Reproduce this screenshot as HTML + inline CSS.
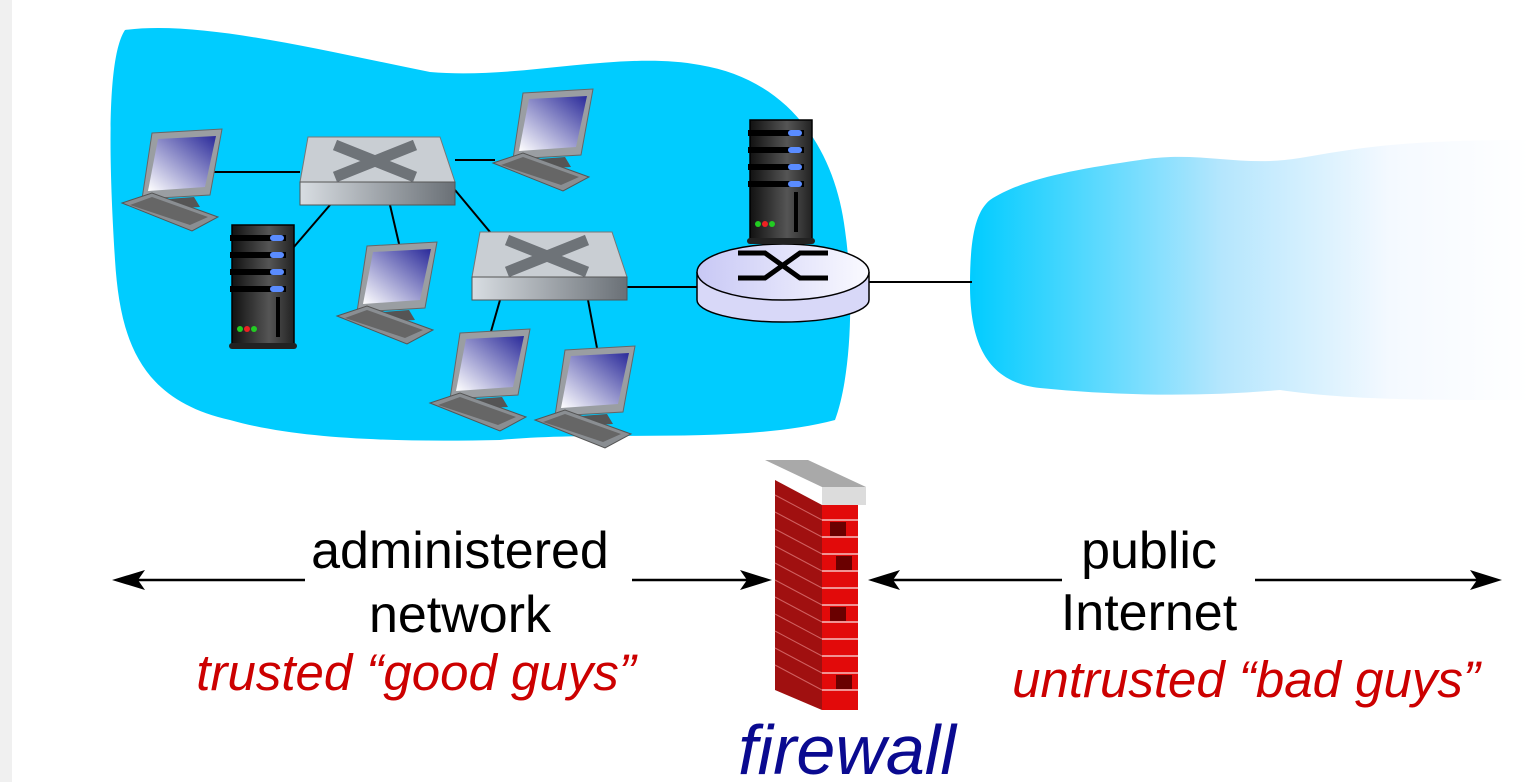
<!DOCTYPE html>
<html><head><meta charset="utf-8"><style>
html,body{margin:0;padding:0;background:#fff;}
svg{display:block}
text{font-family:"Liberation Sans",Arial,sans-serif}
</style></head><body>
<svg width="1530" height="782" viewBox="0 0 1530 782" xmlns="http://www.w3.org/2000/svg">
<defs>
<linearGradient id="cg" x1="0" x2="1" y1="0" y2="0">
<stop offset="0" stop-color="#00ccff"/><stop offset="0.45" stop-color="#b5e6fd"/><stop offset="0.75" stop-color="#f4f9ff"/><stop offset="1" stop-color="#fff"/></linearGradient>
<linearGradient id="scr" x1="0" y1="1" x2="1" y2="0"><stop offset="0" stop-color="#fff"/><stop offset="1" stop-color="#2a2a9a"/></linearGradient>
<linearGradient id="sw" x1="0" x2="1"><stop offset="0" stop-color="#d8dde2"/><stop offset="1" stop-color="#6a7076"/></linearGradient>
<linearGradient id="srv" x1="0" x2="1"><stop offset="0" stop-color="#111"/><stop offset="0.6" stop-color="#555"/><stop offset="1" stop-color="#222"/></linearGradient>
<linearGradient id="rt" x1="0" x2="1"><stop offset="0" stop-color="#c8c8f5"/><stop offset="1" stop-color="#fafaff"/></linearGradient>
<g id="pc">
<polygon points="30,0 100,-4 88,62 20,66" fill="#9a9ea2" stroke="#666" stroke-width="1"/>
<polygon points="36,6 94,3 83,54 26,58" fill="url(#scr)"/>
<polygon points="46,66 72,64 78,74 40,76" fill="#555"/>
<polygon points="0,70 30,60 96,84 70,98" fill="#8a8e92" stroke="#555" stroke-width="1"/>
<polygon points="8,72 30,64 86,84 68,92" fill="#666"/>
</g>
<g id="srvr">
<rect x="0" y="0" width="62" height="122" fill="url(#srv)" stroke="#000" stroke-width="1.5"/>
<rect x="-2" y="10" width="56" height="6" fill="#000"/><rect x="38" y="10" width="14" height="6" rx="3" fill="#5a8cff"/>
<rect x="-2" y="27" width="56" height="6" fill="#000"/><rect x="38" y="27" width="14" height="6" rx="3" fill="#5a8cff"/>
<rect x="-2" y="44" width="56" height="6" fill="#000"/><rect x="38" y="44" width="14" height="6" rx="3" fill="#5a8cff"/>
<rect x="-2" y="61" width="56" height="6" fill="#000"/><rect x="38" y="61" width="14" height="6" rx="3" fill="#5a8cff"/>
<rect x="44" y="72" width="4" height="40" fill="#000"/>
<circle cx="8" cy="104" r="3" fill="#2c2"/><circle cx="15" cy="104" r="3" fill="#e22"/><circle cx="22" cy="104" r="3" fill="#2c2"/>
<rect x="-3" y="118" width="68" height="6" rx="3" fill="#222"/>
</g>
<g id="swt">
<polygon points="8,0 140,0 155,45 0,45" fill="#c9ced3" stroke="#777"/>
<rect x="0" y="45" width="155" height="23" fill="url(#sw)" stroke="#555"/>
<path d="M35,8 L75,24 L115,8 M35,40 L75,24 L115,40" stroke="#6e7378" stroke-width="11" fill="none"/>
</g>
</defs>
<rect x="0" y="0" width="12" height="782" fill="#f0f0f0"/>
<!-- left cloud -->
<path d="M125,30 C200,20 320,50 430,72 C520,80 620,50 700,65 C790,80 835,150 845,230 C855,300 850,380 835,420 C740,445 600,430 500,440 C400,442 300,440 230,420 C140,400 120,340 115,260 C110,180 105,60 125,30 Z" fill="#00ccff"/>
<!-- right cloud -->
<path d="M990,200 C1020,180 1070,170 1140,160 C1200,150 1240,168 1300,158 C1360,148 1400,140 1530,140 L1530,400 C1420,400 1350,400 1280,390 C1200,397 1120,396 1040,388 C985,382 970,340 970,285 C970,240 975,212 990,200 Z" fill="url(#cg)"/>
<!-- links -->
<g stroke="#000" stroke-width="2">
<line x1="210" y1="172" x2="300" y2="172"/>
<line x1="455" y1="160" x2="495" y2="160"/>
<line x1="330" y1="205" x2="293" y2="248"/>
<line x1="390" y1="205" x2="400" y2="248"/>
<line x1="455" y1="190" x2="490" y2="232"/>
<line x1="500" y1="300" x2="490" y2="335"/>
<line x1="588" y1="300" x2="597" y2="348"/>
<line x1="625" y1="287" x2="700" y2="287"/>
<line x1="868" y1="282" x2="972" y2="282"/>
</g>
<use href="#swt" x="300" y="137"/>
<use href="#swt" x="472" y="232"/>
<use href="#pc" x="122" y="133"/>
<use href="#pc" x="493" y="93"/>
<use href="#pc" x="337" y="246"/>
<use href="#pc" x="430" y="333"/>
<use href="#pc" x="535" y="350"/>
<use href="#srvr" x="232" y="225"/>
<!-- router -->
<path d="M697,272 L697,300 A86,22 0 0 0 869,300 L869,272" fill="#d8d8f8" stroke="#000" stroke-width="1.5"/>
<ellipse cx="783" cy="272" rx="86" ry="28" fill="url(#rt)" stroke="#000" stroke-width="1.5"/>
<use href="#srvr" x="750" y="120"/>
<path d="M738,253 L765,253 L800,278 L828,278 M738,278 L765,278 L800,253 L828,253" stroke="#000" stroke-width="5" fill="none"/>
<!-- firewall -->
<polygon points="765,460 808,460 866,487 822,487" fill="#a9a9a9"/>
<polygon points="822,487 866,487 866,505 822,505" fill="#dcdcdc"/>
<polygon points="775,480 822,505 822,710 775,690" fill="#a01010"/>
<rect x="822" y="505" width="36" height="205" fill="#e20a0a"/>
<g stroke="#f4c0c0" stroke-width="1.5">
<path d="M822,520 H858 M822,537 H858 M822,554 H858 M822,571 H858 M822,588 H858 M822,605 H858 M822,622 H858 M822,639 H858 M822,656 H858 M822,673 H858 M822,690 H858" fill="none"/>
</g>
<g stroke="#d06060" stroke-width="1" fill="none">
<path d="M775,495 L822,520 M775,512 L822,537 M775,529 L822,554 M775,546 L822,571 M775,563 L822,588 M775,580 L822,605 M775,597 L822,622 M775,614 L822,639 M775,631 L822,656 M775,648 L822,673 M775,665 L822,690"/>
</g>
<rect x="830" y="522" width="16" height="14" fill="#6a0000"/><rect x="836" y="556" width="16" height="14" fill="#6a0000"/><rect x="830" y="607" width="16" height="14" fill="#6a0000"/><rect x="836" y="675" width="16" height="14" fill="#6a0000"/>
<!-- arrows -->
<g stroke="#000" stroke-width="2.5">
<line x1="130" y1="580" x2="305" y2="580"/>
<line x1="632" y1="580" x2="752" y2="580"/>
<line x1="888" y1="580" x2="1062" y2="580"/>
<line x1="1255" y1="580" x2="1482" y2="580"/>
</g>
<polygon points="112,580 145,570 138,580 145,590" fill="#000"/>
<polygon points="772,580 740,570 747,580 740,590" fill="#000"/>
<polygon points="868,580 900,570 893,580 900,590" fill="#000"/>
<polygon points="1502,580 1470,570 1477,580 1470,590" fill="#000"/>
<!-- text -->
<g font-size="52" fill="#000" text-anchor="middle">
<text x="460" y="568">administered</text>
<text x="460" y="632">network</text>
<text x="1149" y="568">public</text>
<text x="1149" y="630">Internet</text>
</g>
<g font-size="51" fill="#cc0000" font-style="italic" text-anchor="middle">
<text x="416" y="690">trusted “good guys”</text>
<text x="1246" y="697">untrusted “bad guys”</text>
</g>
<text x="847" y="774" font-size="70" font-style="italic" fill="#0a0a90" text-anchor="middle">firewall</text>
</svg>
</body></html>
